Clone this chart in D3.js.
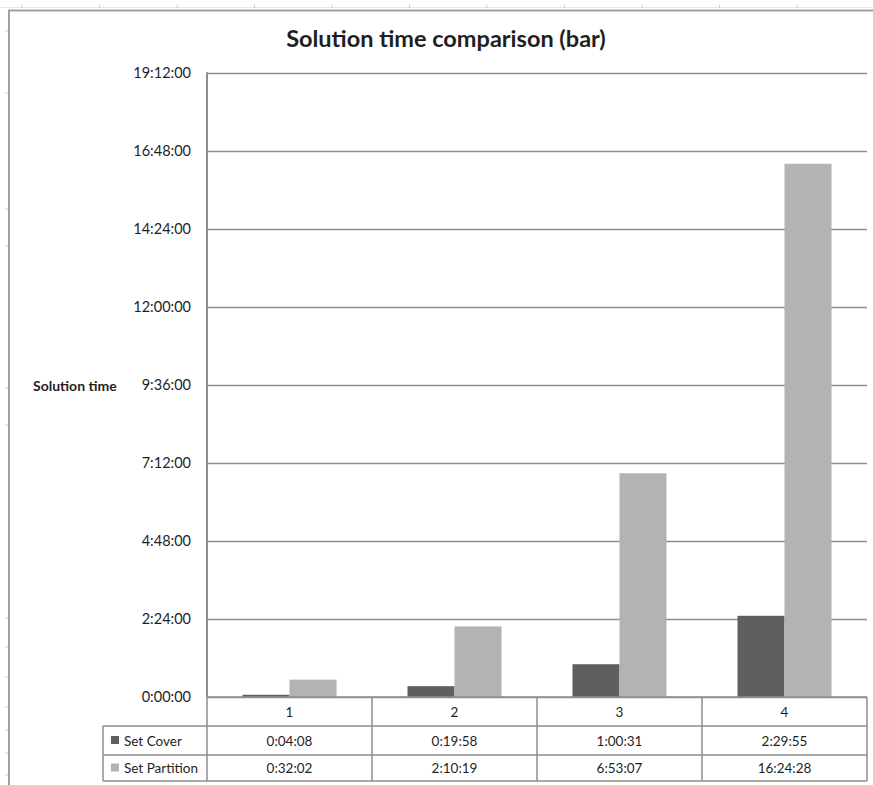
<!DOCTYPE html>
<html>
<head>
<meta charset="utf-8">
<script src="https://cdn.jsdelivr.net/npm/d3@7"></script>
<style>
  html, body { margin: 0; padding: 0; background: #fff; }
  svg { display: block; }
  text { font-family: Lato, "Open Sans", sans-serif; fill: #1f1f1f; }
</style>
</head>
<body>
<script>
// Chart content
const chartTitle = "Solution time comparison (bar)";
const yAxisTitle = "Solution time";
const categories = ["1", "2", "3", "4"];
const seriesNames = ["Set Cover", "Set Partition"];
const setCoverTimes = ["0:04:08", "0:19:58", "1:00:31", "2:29:55"];
const setPartitionTimes = ["0:32:02", "2:10:19", "6:53:07", "16:24:28"];
const yMaxLabel = "19:12:00";
const yStepLabel = "2:24:00";

const seriesColors = ["#5f5f5f", "#b3b3b3"];

const toSeconds = s => s.split(":").map(Number).reduce((a, v) => a * 60 + v, 0);
const fmtTime = sec => {
  const h = Math.floor(sec / 3600), m = Math.floor((sec % 3600) / 60), s = sec % 60;
  return `${h}:${String(m).padStart(2, "0")}:${String(s).padStart(2, "0")}`;
};

const seriesTimes = [setCoverTimes, setPartitionTimes];
const rows = categories.map((c, i) => ({
  cat: c,
  values: seriesNames.map((n, j) => ({ name: n, label: seriesTimes[j][i], sec: toSeconds(seriesTimes[j][i]) }))
}));

const W = 873, H = 785;
const svg = d3.select("body").append("svg").attr("width", W).attr("height", H);

// worksheet ruler ticks along the top and left edges
const rulerTop = d3.range(22, W, 77.5);
svg.append("line").attr("x1", 0).attr("x2", W).attr("y1", 7.5).attr("y2", 7.5)
  .attr("stroke", "#e3e8f1").attr("stroke-width", 1);
svg.selectAll(".rt").data(rulerTop).join("line")
  .attr("x1", d => d).attr("x2", d => d).attr("y1", 5).attr("y2", 8)
  .attr("stroke", "#c3cde0").attr("stroke-width", 1);
const rulerLeft = [31, 93, 209, 246, 388, 425, 618, 647, 677, 707, 730, 753, 775];
svg.selectAll(".rl").data(rulerLeft).join("line")
  .attr("x1", 5).attr("x2", 8).attr("y1", d => d).attr("y2", d => d)
  .attr("stroke", "#c3cde0").attr("stroke-width", 1);

// chart area border
svg.append("path").attr("d", `M9,${H} V10.5 H${W}`)
  .attr("fill", "none").attr("stroke", "#a0a0a0").attr("stroke-width", 2);

// plot geometry
const plot = { left: 207, right: 867, top: 73, bottom: 697 };

const yMax = toSeconds(yMaxLabel), yStep = toSeconds(yStepLabel);
const y = d3.scaleLinear().domain([0, yMax]).range([plot.bottom, plot.top]);
const x = d3.scaleBand().domain(categories).range([plot.left, plot.right]).paddingInner(0).paddingOuter(0);
const xs = d3.scaleBand().domain(seriesNames).range([0, x.bandwidth()]).paddingInner(0).paddingOuter(0.755);

// title
svg.append("text").attr("x", 446).attr("y", 47).attr("text-anchor", "middle")
  .attr("font-size", 23.5).attr("font-weight", "bold").text(chartTitle);

// gridlines + y axis labels
const tickVals = d3.range(0, yMax + 1, yStep);
const yAxis = d3.axisLeft(y).tickValues(tickVals).tickFormat(fmtTime)
  .tickSize(-(plot.right - plot.left)).tickPadding(16);
const gy = svg.append("g").attr("transform", `translate(${plot.left},0)`).call(yAxis);
gy.select(".domain").remove();
gy.selectAll(".tick line").attr("stroke", "#8e8e8e").attr("stroke-width", 1.5);
gy.selectAll(".tick text").attr("font-size", 14.5).attr("fill", "#222")
  .attr("font-family", "Lato, sans-serif");

// y axis line
svg.append("line").attr("x1", plot.left).attr("x2", plot.left)
  .attr("y1", plot.top - 0.75).attr("y2", plot.bottom)
  .attr("stroke", "#8e8e8e").attr("stroke-width", 2);

// y axis title
svg.append("text").attr("x", 33).attr("y", 391).attr("font-size", 14)
  .attr("font-weight", "bold").text(yAxisTitle);

// bars
const groups = svg.append("g").selectAll("g").data(rows).join("g")
  .attr("transform", d => `translate(${x(d.cat)},0)`);
groups.selectAll("rect").data(d => d.values).join("rect")
  .attr("x", d => xs(d.name))
  .attr("width", xs.bandwidth())
  .attr("y", d => y(d.sec))
  .attr("height", d => y(0) - y(d.sec))
  .attr("fill", (d, i) => seriesColors[i]);

// data table below the axis
const rowH = [plot.bottom, 726, 755, 781];
const tableLeft = 103;
const tg = svg.append("g").attr("stroke", "#8e8e8e").attr("stroke-width", 1.5).attr("fill", "none");
// header row (category labels)
tg.append("line").attr("x1", plot.left).attr("x2", plot.right).attr("y1", rowH[0]).attr("y2", rowH[0]);
for (let r = 1; r < rowH.length; r++) {
  tg.append("line").attr("x1", tableLeft).attr("x2", plot.right).attr("y1", rowH[r]).attr("y2", rowH[r]);
}
tg.append("line").attr("x1", tableLeft).attr("x2", tableLeft).attr("y1", rowH[1]).attr("y2", rowH[3]);
const colEdges = categories.map(c => x(c)).concat([x(categories[categories.length - 1]) + x.bandwidth()]);
tg.selectAll(".cv").data(colEdges).join("line")
  .attr("x1", d => d).attr("x2", d => d).attr("y1", rowH[0]).attr("y2", rowH[3]);

svg.selectAll(".catLabel").data(categories).join("text")
  .attr("x", d => x(d) + x.bandwidth() / 2).attr("y", (rowH[0] + rowH[1]) / 2 + 5)
  .attr("text-anchor", "middle").attr("font-size", 13.5).text(d => d);

seriesNames.forEach((name, j) => {
  const cy = (rowH[j + 1] + rowH[j + 2]) / 2;
  svg.append("rect").attr("x", 111).attr("y", cy - 4.5).attr("width", 8).attr("height", 8)
    .attr("fill", seriesColors[j]);
  svg.append("text").attr("x", 124).attr("y", cy + 5).attr("font-size", 13.5).text(name);
  svg.selectAll(null).data(rows).join("text")
    .attr("x", d => x(d.cat) + x.bandwidth() / 2).attr("y", cy + 5)
    .attr("text-anchor", "middle").attr("font-size", 13.5)
    .text(d => d.values[j].label);
});
</script>
</body>
</html>
